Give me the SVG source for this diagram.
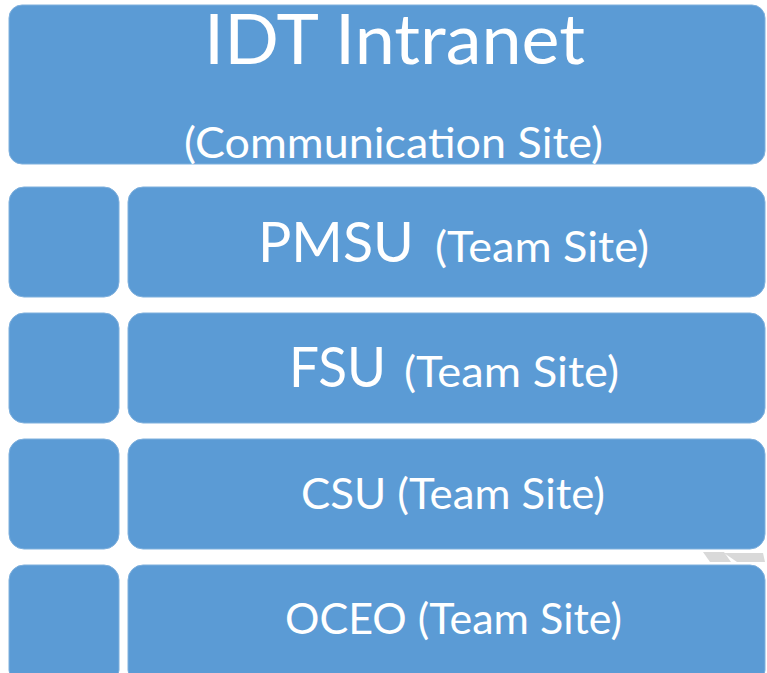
<svg xmlns="http://www.w3.org/2000/svg" width="767" height="673" viewBox="0 0 767 673">
<style>
.box{fill:#5B9BD5;stroke:#7FB0DD;stroke-width:1}
.t{fill:#ffffff;font-family:Lato,"Open Sans","Liberation Sans",sans-serif}
.s{font-size:42px}
.m{font-size:57px}
.l{font-size:70px}
.art{fill:#D9D9D9}
</style>
<rect x="0" y="0" width="767" height="673" fill="#ffffff"/>
<g id="top">
<rect class="box" x="9" y="5" width="756" height="159" rx="13"/>
<text class="t l" x="204" y="64" textLength="381" lengthAdjust="spacingAndGlyphs">IDT Intranet</text>
<text class="t s" x="184" y="158" textLength="419" lengthAdjust="spacingAndGlyphs">(Communication Site)</text>
</g>
<g id="pmsu">
<rect class="box" x="9" y="187" width="110" height="110" rx="15"/>
<rect class="box" x="128" y="187" width="637" height="110" rx="15"/>
<text class="t m" x="258" y="262" textLength="156" lengthAdjust="spacingAndGlyphs">PMSU</text>
<text class="t s" x="435" y="262" textLength="214" lengthAdjust="spacingAndGlyphs">(Team Site)</text>
</g>
<g id="fsu">
<rect class="box" x="9" y="313" width="110" height="110" rx="15"/>
<rect class="box" x="128" y="313" width="637" height="110" rx="15"/>
<text class="t m" x="289" y="387" textLength="97" lengthAdjust="spacingAndGlyphs">FSU</text>
<text class="t s" x="404" y="387" textLength="215" lengthAdjust="spacingAndGlyphs">(Team Site)</text>
</g>
<g id="csu">
<rect class="box" x="9" y="439" width="110" height="110" rx="15"/>
<rect class="box" x="128" y="439" width="637" height="110" rx="15"/>
<text class="t s" x="301" y="509" textLength="304" lengthAdjust="spacingAndGlyphs">CSU (Team Site)</text>
</g>
<g id="oceo">
<rect class="box" x="9" y="565" width="110" height="120" rx="15"/>
<rect class="box" x="128" y="565" width="637" height="120" rx="15"/>
<text class="t s" x="285" y="634" textLength="337" lengthAdjust="spacingAndGlyphs">OCEO (Team Site)</text>
</g>
<g id="connectors"/>
<g id="artifact">
<polygon class="art" points="703,552 724,552 731,562 710,562"/>
<polygon class="art" points="724,553 763,553 765,562 737,562"/>
</g>
</svg>
